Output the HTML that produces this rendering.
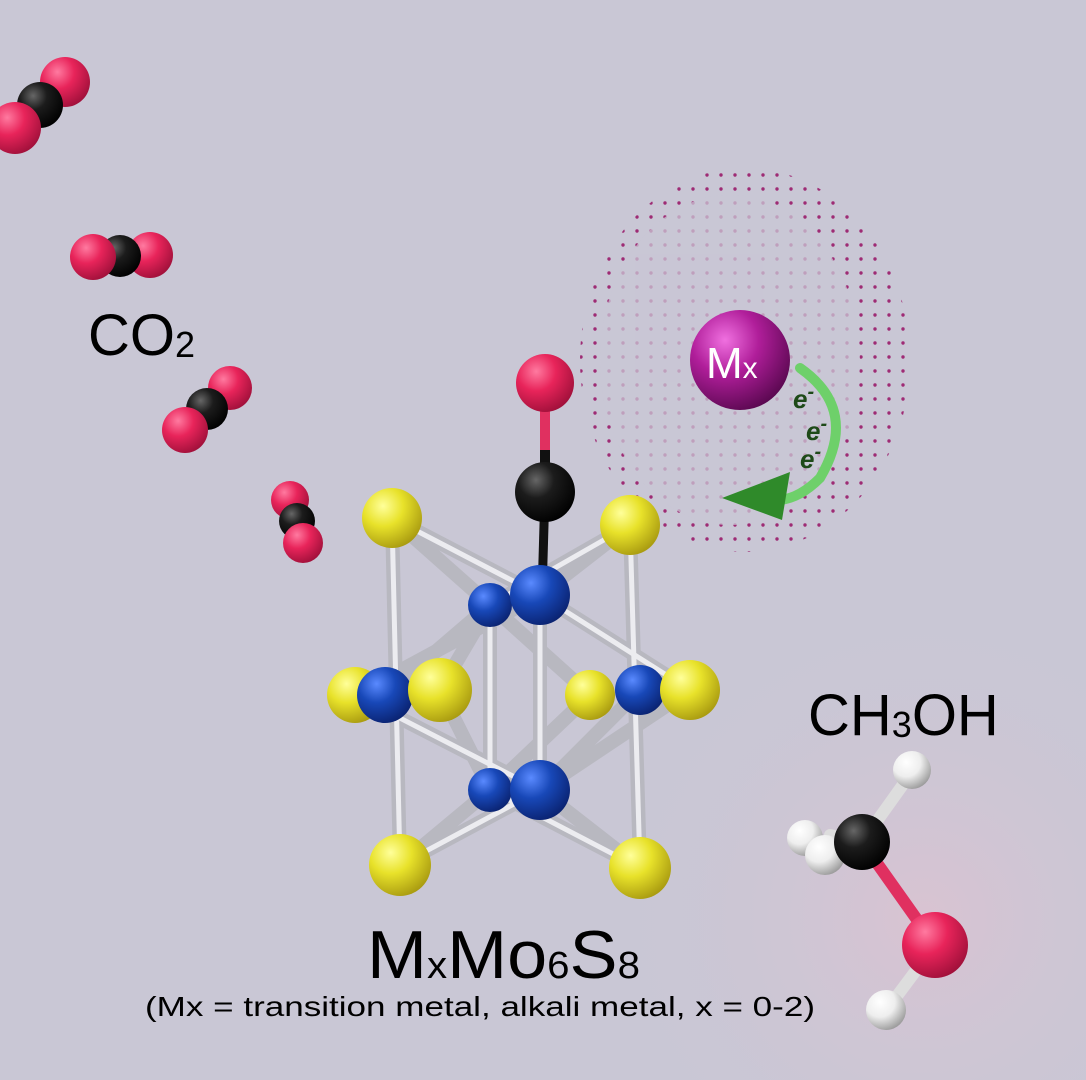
<!DOCTYPE html>
<html><head><meta charset="utf-8"><style>
html,body{margin:0;padding:0;background:#c9c7d5;}
svg{display:block}
</style></head><body>
<svg width="1086" height="1080" viewBox="0 0 1086 1080" xmlns="http://www.w3.org/2000/svg">
<defs>
<radialGradient id="bg" cx="0.85" cy="0.85" r="0.3"><stop offset="0" stop-color="#d9c3d2"/><stop offset="1" stop-color="#c9c7d5" stop-opacity="0"/></radialGradient>
<radialGradient id="red" cx="0.35" cy="0.3" r="0.75"><stop offset="0" stop-color="#ff7aa0"/><stop offset="0.45" stop-color="#e8245a"/><stop offset="1" stop-color="#a0103a"/></radialGradient>
<radialGradient id="blk" cx="0.35" cy="0.3" r="0.75"><stop offset="0" stop-color="#666"/><stop offset="0.4" stop-color="#1c1c1c"/><stop offset="1" stop-color="#000"/></radialGradient>
<radialGradient id="yel" cx="0.35" cy="0.3" r="0.75"><stop offset="0" stop-color="#ffff9a"/><stop offset="0.45" stop-color="#e8e22a"/><stop offset="1" stop-color="#a89a10"/></radialGradient>
<radialGradient id="blu" cx="0.35" cy="0.3" r="0.75"><stop offset="0" stop-color="#5a8aff"/><stop offset="0.45" stop-color="#1848b8"/><stop offset="1" stop-color="#0a2270"/></radialGradient>
<radialGradient id="wht" cx="0.35" cy="0.3" r="0.75"><stop offset="0" stop-color="#fff"/><stop offset="0.5" stop-color="#eee"/><stop offset="1" stop-color="#999"/></radialGradient>
<radialGradient id="mag" cx="0.35" cy="0.3" r="0.75"><stop offset="0" stop-color="#f070e0"/><stop offset="0.45" stop-color="#b01e9a"/><stop offset="1" stop-color="#5a0850"/></radialGradient>
<pattern id="dots" width="14" height="14" patternUnits="userSpaceOnUse"><circle cx="7" cy="7" r="1.7" fill="#9a1a6a"/></pattern>
<clipPath id="ell"><ellipse cx="745" cy="360" rx="165" ry="192"/></clipPath>
</defs>
<rect width="1086" height="1080" fill="#c9c7d5"/>
<rect width="1086" height="1080" fill="url(#bg)"/>

<g clip-path="url(#ell)" opacity="0.9">
<rect x="570" y="160" width="350" height="400" fill="url(#dots)"/>
<ellipse cx="730" cy="360" rx="130" ry="165" fill="#c9c7d5" opacity="0.75"/>
</g>

<g>
<circle cx="65" cy="82" r="25" fill="url(#red)"/><circle cx="40" cy="105" r="23" fill="url(#blk)"/><circle cx="15" cy="128" r="26" fill="url(#red)"/>
<circle cx="150" cy="255" r="23" fill="url(#red)"/><circle cx="120" cy="256" r="21" fill="url(#blk)"/><circle cx="93" cy="257" r="23" fill="url(#red)"/>
<circle cx="230" cy="388" r="22" fill="url(#red)"/><circle cx="207" cy="409" r="21" fill="url(#blk)"/><circle cx="185" cy="430" r="23" fill="url(#red)"/>
<circle cx="290" cy="500" r="19" fill="url(#red)"/><circle cx="297" cy="521" r="18" fill="url(#blk)"/><circle cx="303" cy="543" r="20" fill="url(#red)"/>
</g>
<text x="88" y="355" font-family="Liberation Sans, sans-serif" font-size="58" fill="#000">CO<tspan font-size="36" dy="2">2</tspan></text>

<g stroke-linecap="round">
<g stroke="#b8b8c0" stroke-width="14">
<line x1="392" y1="518" x2="400" y2="865"/><line x1="630" y1="525" x2="640" y2="868"/>
<line x1="392" y1="518" x2="540" y2="595"/><line x1="392" y1="518" x2="490" y2="605"/>
<line x1="630" y1="525" x2="540" y2="595"/><line x1="630" y1="525" x2="490" y2="605"/>
<line x1="355" y1="695" x2="540" y2="595"/><line x1="355" y1="695" x2="540" y2="790"/>
<line x1="690" y1="690" x2="540" y2="595"/><line x1="690" y1="690" x2="540" y2="790"/>
<line x1="440" y1="690" x2="490" y2="605"/><line x1="440" y1="690" x2="490" y2="790"/>
<line x1="590" y1="695" x2="490" y2="605"/><line x1="590" y1="695" x2="490" y2="790"/>
<line x1="400" y1="865" x2="540" y2="790"/><line x1="400" y1="865" x2="490" y2="790"/>
<line x1="640" y1="868" x2="540" y2="790"/><line x1="640" y1="868" x2="490" y2="790"/>
<line x1="540" y1="595" x2="540" y2="790"/><line x1="490" y1="605" x2="490" y2="790"/>
<line x1="385" y1="695" x2="490" y2="605"/><line x1="640" y1="690" x2="540" y2="790"/>
</g>
<g stroke="#ececf0" stroke-width="5">
<line x1="392" y1="518" x2="400" y2="865"/><line x1="630" y1="525" x2="640" y2="868"/>
<line x1="392" y1="518" x2="540" y2="595"/><line x1="630" y1="525" x2="490" y2="605"/>
<line x1="355" y1="695" x2="540" y2="790"/><line x1="690" y1="690" x2="540" y2="595"/>
<line x1="400" y1="865" x2="540" y2="790"/><line x1="640" y1="868" x2="490" y2="790"/>
<line x1="540" y1="595" x2="540" y2="790"/><line x1="490" y1="605" x2="490" y2="790"/>
</g>
</g>
<line x1="545" y1="383" x2="545" y2="490" stroke="#e03060" stroke-width="10"/>
<line x1="545" y1="450" x2="545" y2="490" stroke="#111" stroke-width="10"/>
<line x1="545" y1="490" x2="542" y2="595" stroke="#111" stroke-width="9"/>
<circle cx="545" cy="383" r="29" fill="url(#red)"/>
<circle cx="545" cy="492" r="30" fill="url(#blk)"/>

<circle cx="392" cy="518" r="30" fill="url(#yel)"/>
<circle cx="630" cy="525" r="30" fill="url(#yel)"/>
<circle cx="490" cy="605" r="22" fill="url(#blu)"/>
<circle cx="590" cy="695" r="25" fill="url(#yel)"/>
<circle cx="490" cy="790" r="22" fill="url(#blu)"/>
<circle cx="540" cy="595" r="30" fill="url(#blu)"/>
<circle cx="355" cy="695" r="28" fill="url(#yel)"/>
<circle cx="385" cy="695" r="28" fill="url(#blu)"/>
<circle cx="640" cy="690" r="25" fill="url(#blu)"/>
<circle cx="690" cy="690" r="30" fill="url(#yel)"/>
<circle cx="440" cy="690" r="32" fill="url(#yel)"/>
<circle cx="540" cy="790" r="30" fill="url(#blu)"/>
<circle cx="400" cy="865" r="31" fill="url(#yel)"/>
<circle cx="640" cy="868" r="31" fill="url(#yel)"/>

<circle cx="740" cy="360" r="50" fill="url(#mag)"/>
<text x="706" y="378" font-family="Liberation Sans, sans-serif" font-size="44" fill="#fff">M<tspan font-size="30">x</tspan></text>
<path d="M800,368 Q860,410 820,478 Q800,498 780,500" fill="none" stroke="#6ed06a" stroke-width="10" stroke-linecap="round"/>
<polygon points="722,498 790,472 782,520" fill="#2f8a2a"/>
<g font-family="Liberation Sans, sans-serif" font-size="26" font-style="italic" font-weight="bold" fill="#1e4a18">
<text x="793" y="408">e<tspan dy="-10" font-size="20">-</tspan></text>
<text x="806" y="440">e<tspan dy="-10" font-size="20">-</tspan></text>
<text x="800" y="468">e<tspan dy="-10" font-size="20">-</tspan></text>
</g>

<text x="808" y="735" font-family="Liberation Sans, sans-serif" font-size="58" fill="#000">CH<tspan font-size="36" dy="2">3</tspan><tspan dy="-2">OH</tspan></text>
<g stroke-width="12" stroke-linecap="round">
<line x1="862" y1="842" x2="912" y2="772" stroke="#ddd"/>
<line x1="862" y1="842" x2="830" y2="835" stroke="#ddd"/>
<line x1="862" y1="842" x2="935" y2="945" stroke="#e03060"/>
<line x1="935" y1="945" x2="888" y2="1008" stroke="#ddd"/>
</g>
<circle cx="912" cy="770" r="19" fill="url(#wht)"/>
<circle cx="805" cy="838" r="18" fill="url(#wht)"/>
<circle cx="825" cy="855" r="20" fill="url(#wht)"/>
<circle cx="862" cy="842" r="28" fill="url(#blk)"/>
<circle cx="935" cy="945" r="33" fill="url(#red)"/>
<circle cx="886" cy="1010" r="20" fill="url(#wht)"/>

<text x="367" y="978" font-family="Liberation Sans, sans-serif" font-size="68" fill="#000" textLength="273" lengthAdjust="spacingAndGlyphs">M<tspan font-size="38">x</tspan>Mo<tspan font-size="38">6</tspan>S<tspan font-size="38">8</tspan></text>
<text x="145" y="1016" font-family="Liberation Sans, sans-serif" font-size="28" fill="#000" textLength="670" lengthAdjust="spacingAndGlyphs">(Mx = transition metal, alkali metal, x = 0-2)</text>
</svg>
</body></html>
